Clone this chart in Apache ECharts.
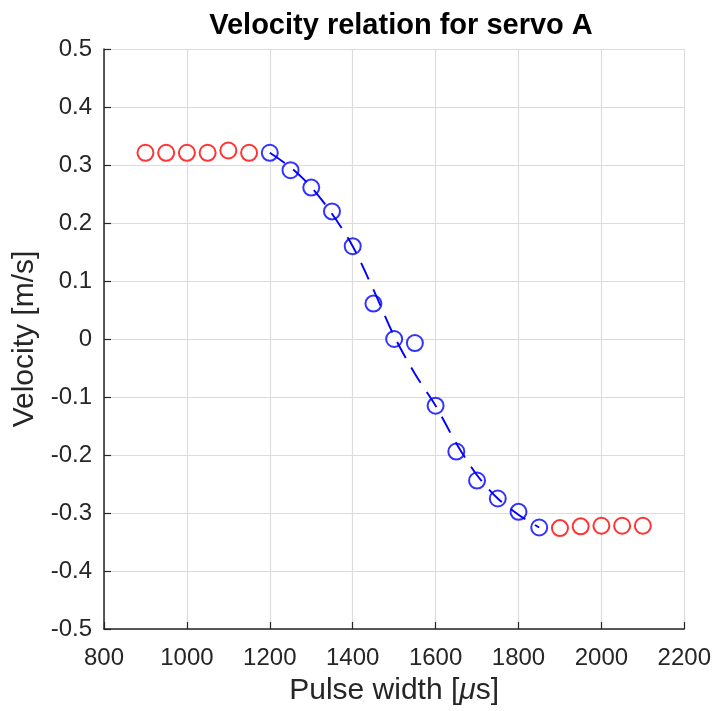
<!DOCTYPE html>
<html><head><meta charset="utf-8">
<script src="https://cdn.jsdelivr.net/npm/echarts@6/dist/echarts.min.js"></script>
<style>html,body{margin:0;padding:0;background:#fff}#c{width:714px;height:711px}</style>
</head><body><div id="c"></div>
<script>
const redLeftX = [900, 950, 1000, 1050, 1100, 1150];
const redLeftY = [0.321, 0.321, 0.321, 0.321, 0.325, 0.321];
const blueX = [1200, 1250, 1300, 1350, 1400, 1450, 1500, 1550, 1600, 1650, 1700, 1750, 1800, 1850];
const blueY = [0.321, 0.291, 0.261, 0.220, 0.160, 0.061, 0.000, -0.007, -0.115, -0.194, -0.244, -0.275, -0.298, -0.325];
const redRightX = [1900, 1950, 2000, 2050, 2100];
const redRightY = [-0.326, -0.323, -0.322, -0.322, -0.322];
const fitX = [1200, 1250, 1300, 1350, 1400, 1450, 1500, 1550, 1600, 1650, 1700, 1750, 1800, 1850];
const fitY = [0.321, 0.296, 0.262, 0.216, 0.160, 0.085, 0.005, -0.060, -0.115, -0.180, -0.235, -0.275, -0.303, -0.325];
const xTicks = [800, 1000, 1200, 1400, 1600, 1800, 2000, 2200];
const yTicks = [-0.5, -0.4, -0.3, -0.2, -0.1, 0, 0.1, 0.2, 0.3, 0.4, 0.5];

const FONT = 'Liberation Sans, Arial, Helvetica, sans-serif';
const zip = (a, b) => a.map((v, i) => [v, b[i]]);
const chart = echarts.init(document.getElementById('c'), null, {renderer: 'canvas'});
const axisColor = '#262626';
chart.setOption({
  animation: false,
  backgroundColor: '#ffffff',
  title: {
    text: 'Velocity relation for servo A',
    left: 396, top: 6, textAlign: 'center',
    textStyle: {fontFamily: FONT, fontWeight: 'bold', fontSize: 29, color: '#000'}
  },
  grid: {left: 104, right: 29, top: 49, bottom: 80},
  xAxis: {
    type: 'value', min: xTicks[0], max: xTicks[xTicks.length - 1], interval: 200,
    name: '{n|Pulse width [}{i|μ}{n|s]}', nameLocation: 'middle', nameGap: 47,
    nameTextStyle: {rich: {
      n: {fontFamily: FONT, fontSize: 30, color: '#262626'},
      i: {fontFamily: FONT, fontSize: 30, color: '#262626', fontStyle: 'italic'}
    }},
    axisLine: {show: true, onZero: false, lineStyle: {color: axisColor, width: 1.5}},
    axisTick: {show: true, inside: true, length: 7, lineStyle: {color: axisColor, width: 1.2}},
    axisLabel: {margin: 17, fontFamily: FONT, fontSize: 24, color: '#262626', formatter: v => String(v)},
    splitLine: {show: true, lineStyle: {color: '#dcdcdc', width: 1.2}}
  },
  yAxis: {
    type: 'value', min: yTicks[0], max: yTicks[yTicks.length - 1], interval: 0.1,
    name: 'Velocity [m/s]', nameLocation: 'middle', nameGap: 62, nameRotate: 90,
    nameTextStyle: {fontFamily: FONT, fontSize: 30, color: '#262626'},
    axisLine: {show: true, onZero: false, lineStyle: {color: axisColor, width: 1.5}},
    axisTick: {show: true, inside: true, length: 7, lineStyle: {color: axisColor, width: 1.2}},
    axisLabel: {margin: 12, fontFamily: FONT, fontSize: 24, color: '#262626',
      formatter: v => { const r = Math.round(v * 10) / 10; return r === 0 ? '0' : String(r); }},
    splitLine: {show: true, lineStyle: {color: '#dcdcdc', width: 1.2}}
  },
  series: [
    {type: 'scatter', data: zip(redLeftX, redLeftY), symbol: 'emptyCircle', symbolSize: 16,
      itemStyle: {color: '#ff0000', borderColor: '#ff0000', borderWidth: 1.9}},
    {type: 'scatter', data: zip(blueX, blueY), symbol: 'emptyCircle', symbolSize: 16,
      itemStyle: {color: '#0000ff', borderColor: '#0000ff', borderWidth: 1.9}},
    {type: 'scatter', data: zip(redRightX, redRightY), symbol: 'emptyCircle', symbolSize: 16,
      itemStyle: {color: '#ff0000', borderColor: '#ff0000', borderWidth: 1.9}},
    {type: 'line', data: zip(fitX, fitY), symbol: 'none', smooth: 0.3, z: 3,
      lineStyle: {color: '#0000ff', width: 1.9, type: [18, 11]}}
  ]
});
</script></body></html>
